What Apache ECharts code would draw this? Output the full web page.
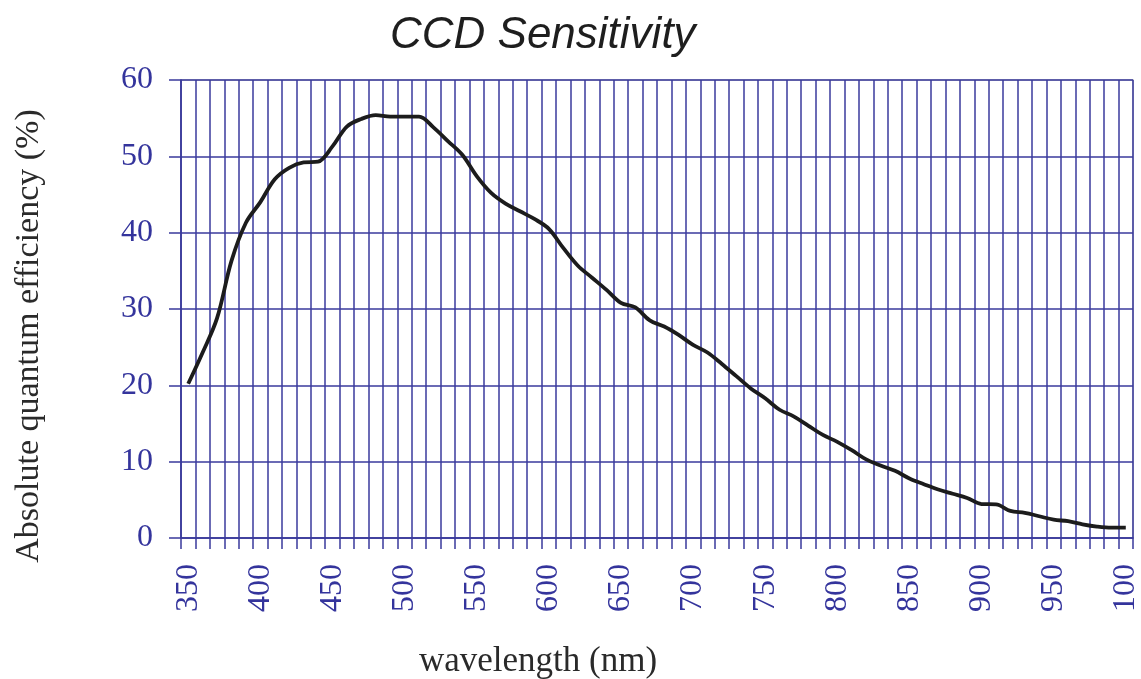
<!DOCTYPE html>
<html>
<head>
<meta charset="utf-8">
<script src="https://cdn.jsdelivr.net/npm/echarts@6/dist/echarts.min.js"></script>
<style>
  html, body { margin: 0; padding: 0; background: #ffffff; }
  #chart { width: 1141px; height: 679px; }
</style>
</head>
<body>
<div id="chart"></div>
<script>
// Wavelength categories (nm), one every 10 nm from 350 to 1000
const wavelengths = [
  350, 360, 370, 380, 390, 400, 410, 420, 430, 440,
  450, 460, 470, 480, 490, 500, 510, 520, 530, 540,
  550, 560, 570, 580, 590, 600, 610, 620, 630, 640,
  650, 660, 670, 680, 690, 700, 710, 720, 730, 740,
  750, 760, 770, 780, 790, 800, 810, 820, 830, 840,
  850, 860, 870, 880, 890, 900, 910, 920, 930, 940,
  950, 960, 970, 980, 990, 1000
];

// Absolute quantum efficiency (%) at each wavelength
const efficiency = [
  20.2, 24.3, 28.8, 36.3, 41.3, 44.0, 47.0, 48.5, 49.2, 49.3,
  51.3, 53.9, 54.9, 55.4, 55.2, 55.2, 55.2, 53.8, 52.0, 50.2,
  47.4, 45.2, 43.8, 42.8, 41.8, 40.5, 38.0, 35.7, 34.1, 32.5,
  30.8, 30.2, 28.5, 27.7, 26.6, 25.3, 24.3, 22.8, 21.2, 19.6,
  18.3, 16.8, 15.9, 14.7, 13.5, 12.6, 11.5, 10.3, 9.5, 8.8,
  7.8, 7.05, 6.35, 5.8, 5.25, 4.45, 4.4, 3.55, 3.3, 2.85,
  2.4, 2.2, 1.8, 1.5, 1.35, 1.35
];

// Tick labels printed under every fifth category
const xTickLabels = ['350', '400', '450', '500', '550', '600', '650',
                     '700', '750', '800', '850', '900', '950', '100'];

const yMin = 0, yMax = 60, yStep = 10;

const navy = '#3a3a9c';
const serif = '"Liberation Serif", "DejaVu Serif", serif';

const chart = echarts.init(document.getElementById('chart'));
chart.setOption({
  animation: false,
  backgroundColor: '#ffffff',
  title: {
    text: 'CCD Sensitivity',
    left: 385,
    top: 9,
    textStyle: {
      fontFamily: '"Liberation Sans", Arial, sans-serif',
      fontStyle: 'italic',
      fontWeight: 'normal',
      fontSize: 44,
      color: '#1e1e1e'
    }
  },
  grid: {
    left: 181, right: 8, top: 80, bottom: 141,
    outerBoundsMode: 'none',
    containLabel: false,
    show: true,
    borderColor: '#b4b6b8',
    borderWidth: 1.5,
    backgroundColor: '#ffffff'
  },
  xAxis: {
    type: 'category',
    data: wavelengths.map(String),
    boundaryGap: true,
    name: 'wavelength (nm)',
    nameLocation: 'middle',
    nameGap: 106,
    nameTextStyle: {
      fontFamily: serif, fontSize: 35, color: '#2a2a2a',
      padding: [0, 238, 0, 0]
    },
    axisLine: { lineStyle: { color: navy, width: 1.5 } },
    axisTick: { show: true, interval: 0, length: 11, lineStyle: { color: navy, width: 1.5 } },
    splitLine: { show: true, interval: 0, lineStyle: { color: navy, width: 1.5 } },
    axisLabel: {
      interval: 4,
      rotate: 90,
      margin: 26,
      fontFamily: serif,
      fontSize: 32,
      color: '#34349c',
      formatter: function (v, i) { return xTickLabels[i / 5]; }
    }
  },
  yAxis: {
    type: 'value',
    min: yMin, max: yMax, interval: yStep,
    name: 'Absolute quantum efficiency (%)',
    nameLocation: 'middle',
    nameRotate: 90,
    nameGap: 135,
    nameTextStyle: {
      fontFamily: serif, fontSize: 34, color: '#2a2a2a',
      padding: [0, 54, 0, 0]
    },
    axisLine: { show: true, lineStyle: { color: navy, width: 1.5 } },
    axisTick: { show: true, length: 12, lineStyle: { color: navy, width: 1.5 } },
    splitLine: { show: true, lineStyle: { color: navy, width: 1.5 } },
    axisLabel: {
      margin: 28,
      fontFamily: serif,
      fontSize: 32,
      color: '#34349c'
    }
  },
  series: [{
    type: 'line',
    data: efficiency,
    smooth: 0.35,
    symbol: 'none',
    lineStyle: { color: '#1c1c1c', width: 3.8 }
  }]
});
</script>
</body>
</html>
